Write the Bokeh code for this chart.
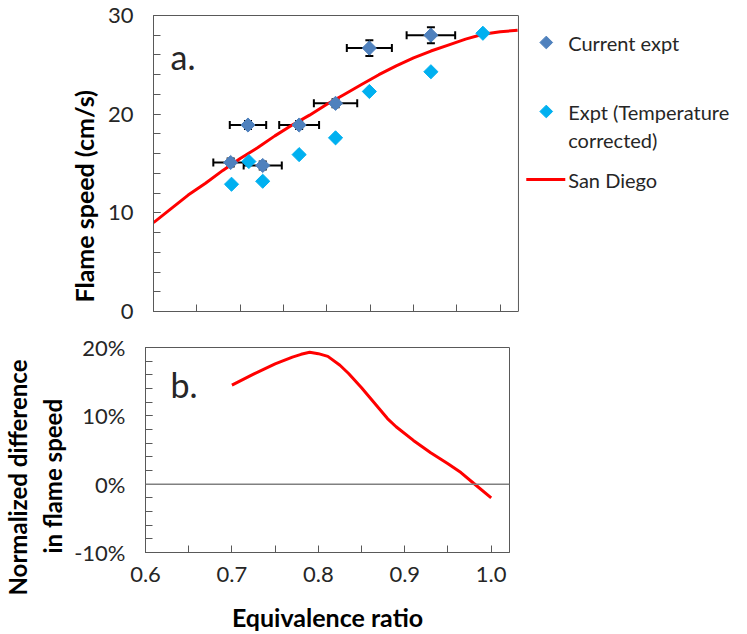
import numpy as np
from bokeh.plotting import figure
from bokeh.models import (ColumnDataSource, Whisker, TeeHead, FixedTicker, Span, Label, Title,
                          PrintfTickFormatter, CustomJSTickFormatter, Range1d, LinearAxis)
from bokeh.embed import file_html
from bokeh.resources import INLINE

# ---------------- data ----------------
# Panel a: current experiment (with error bars)
phi_cur = [0.689, 0.709, 0.726, 0.768, 0.810, 0.849, 0.920]
sl_cur = [15.1, 18.9, 14.8, 18.9, 21.1, 26.7, 28.0]
phi_err = [0.020, 0.021, 0.022, 0.023, 0.025, 0.026, 0.028]
sl_err = [0.4, 0.4, 0.4, 0.4, 0.4, 0.8, 0.8]

# Panel a: temperature corrected experiment
phi_tc = [0.690, 0.710, 0.726, 0.768, 0.810, 0.849, 0.920, 0.980]
sl_tc = [12.9, 15.2, 13.2, 15.9, 17.6, 22.3, 24.3, 28.2]

# Panel a: San Diego mechanism
phi_sd = [0.60, 0.62, 0.64, 0.66, 0.68, 0.70, 0.72, 0.74, 0.76, 0.78, 0.80,
          0.82, 0.84, 0.86, 0.88, 0.90, 0.92, 0.94, 0.96, 0.98, 1.00, 1.02]
sl_sd = [9.0, 10.4, 11.8, 13.0, 14.3, 15.5, 16.6, 17.8, 18.9, 19.9, 21.0,
         22.0, 23.0, 24.0, 24.9, 25.7, 26.4, 27.0, 27.6, 28.1, 28.35, 28.5]

# Panel b: normalized difference (%)
phi_nd = [0.700, 0.725, 0.750, 0.770, 0.780, 0.790, 0.800, 0.811, 0.825, 0.835,
          0.850, 0.860, 0.870, 0.880, 0.890, 0.910, 0.930, 0.950, 0.965, 0.980, 1.000]
nd = [14.5, 16.1, 17.6, 18.6, 19.0, 19.3, 19.1, 18.7, 17.4, 16.2,
      14.1, 12.6, 11.1, 9.6, 8.4, 6.4, 4.6, 3.0, 1.7, 0.1, -2.0]

# ticks
x_major = [0.6, 0.7, 0.8, 0.9, 1.0]
x_minor = [0.65, 0.75, 0.85, 0.95]
ya_major = [0, 10, 20, 30]
ya_minor = list(range(0, 31, 2))
yb_major = [-10, 0, 10, 20]
yb_minor = list(range(-10, 21, 2))

legend_labels = ["Current expt", "Expt (Temperature", "corrected)", "San Diego"]

X_START, X_END = 0.6, 1.021

FONT = "Lato"
AXC = "#595959"
TXT = "#262626"
DARK = "#4F81BD"
LIGHT = "#00B0F0"
RED = "#FF0000"


def style(p):
    p.background_fill_color = "white"
    p.border_fill_color = "white"
    p.grid.visible = False
    for ax in p.axis:
        ax.axis_line_color = AXC
        ax.major_tick_line_color = AXC
        ax.minor_tick_line_color = AXC
        ax.major_tick_in = 7
        ax.major_tick_out = 0
        ax.minor_tick_in = 7
        ax.minor_tick_out = 0
        ax.major_label_text_font = FONT
        ax.major_label_text_font_size = "22px"
        ax.major_label_text_color = TXT
        ax.axis_label_text_font = FONT
        ax.axis_label_text_font_size = "25px"
        ax.axis_label_text_font_style = "bold"
        ax.axis_label_text_color = "black"


def side_title(p, text, offset, size="25px", standoff=10):
    p.add_layout(Title(text=text, align="left", offset=offset, vertical_align="middle",
                       standoff=standoff, text_font=FONT, text_font_size=size,
                       text_font_style="bold", text_color="black"), "left")


# ---------------- panel a ----------------
# The frame runs to the right edge of the canvas so the legend area lies inside it;
# the visible plot box is drawn with bounded axes plus a span.
FR_L, FR_B, FR_T = 153.3, 311.0, 15.0          # frame pixel edges (left, bottom, top)
px_per_x = 866.7                               # pixels per unit of equivalence ratio
px_per_y = (FR_B - FR_T) / 30.0
x_end_canvas = X_END + (747 - 518) / px_per_x

p1 = figure(width=747, height=330, x_range=Range1d(X_START, x_end_canvas), y_range=Range1d(0, 30),
            output_backend="svg", toolbar_location=None,
            min_border_left=153, min_border_right=0, min_border_top=15, min_border_bottom=19)
p1.outline_line_color = None
p1.add_layout(LinearAxis(), "above")
style(p1)
for ax in p1.xaxis:
    ax.bounds = (X_START, X_END)
    ax.formatter = CustomJSTickFormatter(code="return ''")
    ax.major_label_text_font_size = "0px"
    ax.major_label_standoff = 0
p1.below[0].ticker = FixedTicker(ticks=x_major + x_minor)
p1.above[0].ticker = FixedTicker(ticks=[])
p1.yaxis.ticker = FixedTicker(ticks=ya_major, minor_ticks=ya_minor)
p1.yaxis.major_label_standoff = 20
side_title(p1, "Flame speed (cm/s)", offset=9)
p1.add_layout(Span(location=X_END, dimension="height", line_color=AXC, line_width=1))

src = ColumnDataSource(dict(
    x=phi_cur, y=sl_cur,
    xl=[a - b for a, b in zip(phi_cur, phi_err)], xu=[a + b for a, b in zip(phi_cur, phi_err)],
    yl=[a - b for a, b in zip(sl_cur, sl_err)], yu=[a + b for a, b in zip(sl_cur, sl_err)],
))

p1.line(phi_sd, sl_sd, line_color=RED, line_width=3)

for dim, base, lo, hi in (("width", "y", "xl", "xu"), ("height", "x", "yl", "yu")):
    w = Whisker(source=src, base=base, lower=lo, upper=hi, dimension=dim,
                line_color="black", line_width=2, level="underlay",
                lower_head=TeeHead(size=8, line_color="black", line_width=2),
                upper_head=TeeHead(size=8, line_color="black", line_width=2))
    p1.add_layout(w)

MK = dict(marker="square", angle=np.pi / 4, size=10)
p1.scatter(phi_tc, sl_tc, fill_color=LIGHT, line_color=LIGHT, **MK)
p1.scatter("x", "y", source=src, fill_color=DARK, line_color=DARK, **MK)


# ---- legend (to the right of the plot box) ----
def to_data(px, py):
    return X_START + (px - FR_L) / px_per_x, (FR_B - py) / px_per_y


(kx1, ky1), (_, ky2) = to_data(546, 42), to_data(546, 111)
(lx0, ly), (lx1, _) = to_data(526, 179), to_data(565, 179)
p1.scatter([kx1], [ky1], fill_color=DARK, line_color=DARK, marker="square",
           angle=np.pi / 4, size=9)
p1.scatter([kx1], [ky2], fill_color=LIGHT, line_color=LIGHT, marker="square",
           angle=np.pi / 4, size=9)
p1.line([lx0, lx1], [ly, ly], line_color=RED, line_width=3)
for t, py in zip(legend_labels, (42, 111, 139, 179)):
    p1.add_layout(Label(x=568 - FR_L, y=FR_B - py, x_units="screen", y_units="screen", text=t,
                        text_font=FONT, text_font_size="20px", text_color=TXT,
                        text_baseline="middle", text_align="left"))

p1.add_layout(Label(x=17, y=255, x_units="screen", y_units="screen", text="a.",
                    text_font=FONT, text_font_size="34px", text_color=TXT,
                    text_baseline="alphabetic"))

# ---------------- panel b ----------------
p2 = figure(width=747, height=304, x_range=Range1d(0.6, 1.0212), y_range=Range1d(-10, 20),
            output_backend="svg", toolbar_location=None,
            min_border_left=145, min_border_right=238, min_border_top=17, min_border_bottom=82)
p2.outline_line_color = AXC
p2.outline_line_width = 1
style(p2)
p2.xaxis.ticker = FixedTicker(ticks=x_major, minor_ticks=x_minor)
p2.xaxis.formatter = PrintfTickFormatter(format="%.1f")
p2.xaxis.major_label_standoff = 14
p2.xaxis.axis_label = "Equivalence ratio"
p2.xaxis.axis_label_standoff = 17
p2.yaxis.ticker = FixedTicker(ticks=yb_major, minor_ticks=yb_minor)
p2.yaxis.formatter = PrintfTickFormatter(format="%d%%")
p2.yaxis.major_label_standoff = 20
side_title(p2, "in flame speed", offset=-1, size="24px", standoff=8)
side_title(p2, "Normalized difference", offset=-43, size="24px", standoff=0)

p2.add_layout(Span(location=0, dimension="width", line_color="#808080", line_width=1.5))
p2.line(phi_nd, nd, line_color=RED, line_width=3)

p2.add_layout(Label(x=25, y=168, x_units="screen", y_units="screen", text="b.",
                    text_font=FONT, text_font_size="34px", text_color=TXT,
                    text_baseline="alphabetic"))

open("out.html", "w").write(file_html([p1, p2], INLINE))
